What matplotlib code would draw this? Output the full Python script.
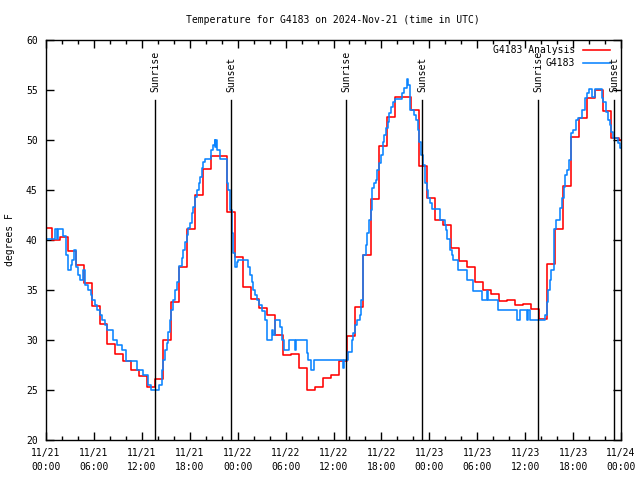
import numpy as np
import pandas as pd
import matplotlib
matplotlib.use("Agg")
import matplotlib.pyplot as plt
from matplotlib.lines import Line2D

# ======================================
# DATA
# ======================================
start = pd.Timestamp("2024-11-21 00:00")
end = pd.Timestamp("2024-11-24 00:00")

# analysis: hourly values, each step begins at :42 past the hour
red_start = "2024-11-20 23:42"
red_temp = [41.2, 40.0, 40.3, 38.9, 37.5, 35.7, 33.4, 31.6, 29.6, 28.6, 27.9, 27.0,
            26.4, 25.3, 26.1, 30.0, 33.8, 37.3, 41.1, 44.5, 47.1, 48.4, 48.4, 42.8,
            38.3, 35.3, 34.1, 33.2, 32.5, 30.5, 28.5, 28.6, 27.2, 25.0, 25.3, 26.2,
            26.5, 27.9, 30.4, 33.3, 38.5, 44.1, 49.4, 52.3, 54.3, 54.3, 53.0, 47.4,
            44.2, 42.0, 41.5, 39.2, 37.9, 37.3, 35.8, 35.0, 34.6, 33.9, 34.0, 33.5,
            33.6, 33.1, 32.1, 37.6, 41.1, 45.4, 50.3, 52.2, 54.2, 55.0, 52.9, 50.2,
            50.0]

# observations: hours since 11/21 00:00 where the reading changes
blue_hours = [0.0, 1.1, 1.4, 1.5, 2.1, 2.45, 2.8, 3.1, 3.3, 3.55, 3.75, 4.05, 4.25,
              4.6, 4.9, 5.2, 5.6, 5.8, 6.1, 6.4, 6.7, 7.0, 7.4, 7.6, 8.35, 8.9, 9.5,
              10.0, 11.4, 12.2, 12.8, 13.2, 14.2, 14.5, 14.7, 14.9, 15.1, 15.3, 15.5,
              15.7, 15.9, 16.15, 16.45, 16.7, 17.0, 17.2, 17.4, 17.6, 17.8, 18.0,
              18.25, 18.45, 18.65, 18.9, 19.1, 19.3, 19.5, 19.7, 19.9, 20.6, 20.9,
              21.1, 21.2, 21.3, 21.45, 21.8, 22.7, 22.8, 23.0, 23.25, 23.45, 23.65,
              23.9, 24.1, 25.25, 25.55, 25.75, 25.95, 26.2, 26.45, 26.7, 27.0, 27.4,
              27.7, 28.25, 28.45, 28.7, 29.3, 29.6, 29.8, 30.4, 31.2, 31.35, 32.65,
              32.85, 33.2, 33.5, 37.2, 37.35, 37.85, 38.3, 38.5, 38.7, 38.9, 39.3,
              39.5, 39.7, 40.05, 40.2, 40.45, 40.65, 40.85, 41.05, 41.3, 41.5, 41.7,
              41.95, 42.15, 42.35, 42.6, 42.8, 43.0, 43.2, 43.4, 43.7, 44.55, 44.8,
              45.15, 45.35, 45.6, 46.1, 46.3, 46.55, 46.75, 46.95, 47.25, 47.45,
              47.65, 47.85, 48.1, 48.3, 49.3, 49.9, 50.05, 50.25, 50.6, 50.8, 51.0,
              51.6, 52.7, 53.5, 54.55, 55.2, 55.35, 56.6, 58.95, 59.35, 60.2, 60.35,
              60.6, 62.5, 62.7, 62.9, 63.05, 63.2, 63.6, 63.85, 64.35, 64.6, 64.8,
              65.0, 65.2, 65.5, 65.7, 66.0, 66.4, 66.65, 67.1, 67.5, 67.8, 68.05,
              68.35, 68.75, 69.6, 69.8, 70.1, 70.4, 70.6, 70.8, 71.0, 71.65, 71.85,
              72.0]
blue_temp = [40.1, 41.1, 40.1, 41.1, 40.4, 38.5, 37.0, 37.5, 38.0, 39.0, 37.3, 36.5,
             36.0, 37.0, 35.5, 35.0, 34.5, 34.0, 33.5, 33.0, 32.5, 32.0, 31.5, 31.0,
             30.0, 29.5, 29.0, 27.9, 27.0, 26.5, 25.5, 25.0, 25.5, 27.0, 28.0, 29.0,
             29.7, 30.8, 32.0, 33.0, 34.0, 35.0, 35.8, 37.4, 38.2, 39.0, 39.8, 40.5,
             41.2, 41.7, 42.7, 43.3, 44.3, 45.0, 45.7, 46.3, 47.2, 47.8, 48.1, 49.0,
             49.5, 50.0, 49.3, 50.0, 49.0, 48.1, 45.7, 45.0, 43.0, 40.7, 38.7, 37.3,
             37.8, 38.0, 37.3, 36.5, 35.8, 35.0, 34.5, 34.0, 33.5, 32.9, 32.0, 30.0,
             31.0, 30.5, 32.0, 31.3, 30.0, 29.0, 30.0, 29.0, 30.0, 28.7, 28.0, 27.0,
             28.0, 27.2, 28.0, 28.8, 30.0, 30.7, 31.5, 32.0, 32.5, 34.0, 38.5, 39.5,
             40.7, 42.0, 43.0, 45.2, 45.7, 46.0, 47.0, 47.7, 48.5, 49.8, 50.5, 51.2,
             51.8, 52.7, 53.3, 53.8, 54.1, 54.7, 55.2, 56.1, 55.5, 53.0, 52.5, 52.0,
             51.0, 49.8, 48.5, 47.5, 45.7, 45.0, 44.2, 43.7, 43.1, 42.0, 41.5, 41.0,
             40.1, 39.0, 38.5, 38.0, 37.0, 36.0, 34.9, 34.0, 34.9, 34.0, 33.0, 32.0,
             33.0, 32.0, 33.0, 32.0, 32.5, 33.8, 35.0, 36.0, 37.0, 41.1, 42.0, 43.2,
             44.2, 45.3, 46.5, 47.0, 48.0, 50.7, 51.0, 52.0, 52.2, 53.0, 54.2, 54.7,
             55.1, 54.3, 55.1, 54.2, 53.8, 52.8, 52.0, 51.5, 50.8, 50.2, 49.7, 49.2,
             49.2]

sun_times = ["2024-11-21 13:41", "2024-11-21 23:12", "2024-11-22 13:35",
             "2024-11-22 23:07", "2024-11-23 13:39", "2024-11-23 23:11"]
sun_labels = ["Sunrise", "Sunset", "Sunrise", "Sunset", "Sunrise", "Sunset"]

yticks = [20, 25, 30, 35, 40, 45, 50, 55, 60]

# ======================================
# BUILD SERIES
# ======================================
red_times = pd.date_range(red_start, periods=len(red_temp), freq="h")
red_x = list(red_times) + [end]
red_y = red_temp + [red_temp[-1]]

blue_x = start + pd.to_timedelta(blue_hours, unit="h")

# ======================================
# PLOT
# ======================================
FONT = "DejaVu Sans Mono"
FS = 7
LW = 1.15
plt.rcParams["font.family"] = FONT
plt.rcParams["font.size"] = FS

fig = plt.figure(figsize=(6.4, 4.8), dpi=100)
ax = fig.add_axes([46 / 640, 40 / 480, 575 / 640, 400 / 480])

ax.step(red_x, red_y, where="post", color="#ff0000", lw=LW)
ax.step(blue_x, blue_temp, where="post", color="#0a84ff", lw=LW)

for t, lab in zip(sun_times, sun_labels):
    ts = pd.Timestamp(t)
    ax.plot([ts, ts], [20, 54], color="black", lw=1)
    ax.text(ts, 54.8, lab, rotation=90, ha="center", va="bottom", fontsize=FS)

ax.set_xlim(start, end)
ax.set_ylim(20, 60)

# x ticks: major every 6h with date/time label, minor every 2h
major = pd.date_range(start, end, freq="6h")
minor = pd.date_range(start, end, freq="2h")
ax.set_xticks(major)
ax.set_xticklabels([d.strftime("%m/%d\n%H:%M") for d in major], linespacing=1.45)
ax.set_xticks(minor, minor=True)
ax.set_yticks(yticks)

ax.tick_params(which="major", direction="in", length=6, width=1,
               top=True, right=True, labelsize=FS)
ax.tick_params(which="minor", direction="in", length=3, width=1,
               top=True, right=True)
ax.tick_params(axis="x", pad=6)
ax.tick_params(axis="y", pad=6)
for s in ax.spines.values():
    s.set_linewidth(1)

# legend (right-justified text, gnuplot style)
ax.text(0.92, 0.975, "G4183 Analysis", transform=ax.transAxes,
        ha="right", va="center", fontsize=FS)
ax.text(0.92, 0.9425, "G4183", transform=ax.transAxes,
        ha="right", va="center", fontsize=FS)
ax.add_line(Line2D([0.934, 0.981], [0.975, 0.975], transform=ax.transAxes,
                   color="#ff0000", lw=LW))
ax.add_line(Line2D([0.934, 0.981], [0.9425, 0.9425], transform=ax.transAxes,
                   color="#0a84ff", lw=LW))

fig.text(0.52, 1 - 20 / 480, "Temperature for G4183 on 2024-Nov-21 (time in UTC)",
         ha="center", va="center", fontsize=FS)
fig.text(10 / 640, 0.5, "degrees F", rotation=90, ha="center", va="center",
         fontsize=FS)

fig.savefig("out.png", dpi=100)
plt.close(fig)
